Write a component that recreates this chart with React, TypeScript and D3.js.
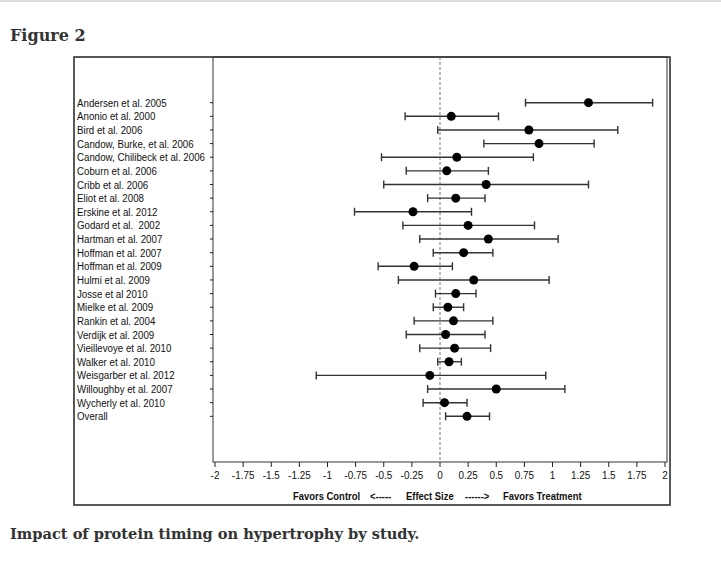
import { useEffect, useRef } from "react";
import * as d3 from "d3";

const studies = [
  "Andersen et al. 2005",
  "Anonio et al. 2000",
  "Bird et al. 2006",
  "Candow, Burke, et al. 2006",
  "Candow, Chilibeck et al. 2006",
  "Coburn et al. 2006",
  "Cribb et al. 2006",
  "Eliot et al. 2008",
  "Erskine et al. 2012",
  "Godard et al.  2002",
  "Hartman et al. 2007",
  "Hoffman et al. 2007",
  "Hoffman et al. 2009",
  "Hulmi et al. 2009",
  "Josse et al 2010",
  "Mielke et al. 2009",
  "Rankin et al. 2004",
  "Verdijk et al. 2009",
  "Vieillevoye et al. 2010",
  "Walker et al. 2010",
  "Weisgarber et al. 2012",
  "Willoughby et al. 2007",
  "Wycherly et al. 2010",
  "Overall",
];
const effect = [1.32, 0.1, 0.79, 0.88, 0.15, 0.06, 0.41, 0.14, -0.24, 0.25, 0.43, 0.21, -0.23, 0.3, 0.14, 0.07, 0.12, 0.05, 0.13, 0.08, -0.09, 0.5, 0.04, 0.24];
const lower = [0.76, -0.31, -0.02, 0.39, -0.52, -0.3, -0.5, -0.11, -0.76, -0.33, -0.18, -0.06, -0.55, -0.37, -0.04, -0.06, -0.23, -0.3, -0.18, -0.02, -1.1, -0.11, -0.15, 0.05];
const upper = [1.89, 0.52, 1.58, 1.37, 0.83, 0.43, 1.32, 0.4, 0.28, 0.84, 1.05, 0.47, 0.11, 0.97, 0.32, 0.21, 0.47, 0.4, 0.45, 0.19, 0.94, 1.11, 0.24, 0.44];
const xTicks = [-2, -1.75, -1.5, -1.25, -1, -0.75, -0.5, -0.25, 0, 0.25, 0.5, 0.75, 1, 1.25, 1.5, 1.75, 2];
const axisTitleParts = ["Favors Control", "<-----", "Effect Size", "------>", "Favors Treatment"];

const W = 721;
const H = 561;

export default function App() {
  const svgRef = useRef<SVGSVGElement | null>(null);

  useEffect(() => {
    if (!svgRef.current) return;
    const svg = d3.select(svgRef.current);
    svg.selectAll("*").remove();

    const outer = { left: 74, top: 57, right: 670, bottom: 505 };
    const plot = { left: 213, top: 57, right: 667, bottom: 462 };
    const narrow = 0.9; // the original sans is a bit condensed

    // thin grey rule at the very top of the page
    svg.append("rect").attr("x", 0).attr("y", 0).attr("width", W).attr("height", 2).attr("fill", "#dcdcdc");

    svg.append("text")
      .attr("x", 10).attr("y", 41)
      .style("font-family", "'DejaVu Serif', serif")
      .style("font-weight", "bold")
      .style("font-size", "16px")
      .style("fill", "#333")
      .text("Figure 2");

    svg.append("text")
      .attr("x", 10).attr("y", 539)
      .style("font-family", "'DejaVu Serif', serif")
      .style("font-weight", "bold")
      .style("font-size", "14.6px")
      .style("fill", "#333")
      .text("Impact of protein timing on hypertrophy by study.");

    svg.append("rect")
      .attr("x", outer.left).attr("y", outer.top)
      .attr("width", outer.right - outer.left)
      .attr("height", outer.bottom - outer.top)
      .attr("fill", "#fff")
      .attr("stroke", "#222")
      .attr("stroke-width", 1.5);

    svg.append("rect")
      .attr("x", plot.left).attr("y", plot.top)
      .attr("width", plot.right - plot.left)
      .attr("height", plot.bottom - plot.top)
      .attr("fill", "none")
      .attr("stroke", "#333")
      .attr("stroke-width", 1);

    const x = d3.scaleLinear().domain([-2, 2]).range([215, 665]);
    const y = d3.scalePoint<string>().domain(studies).range([plot.top, plot.bottom]).padding(3.35);

    const font = "'Liberation Sans', Arial, sans-serif";

    // zero reference line
    svg.append("line")
      .attr("x1", x(0)).attr("x2", x(0))
      .attr("y1", plot.top).attr("y2", plot.bottom)
      .attr("stroke", "#777")
      .attr("stroke-dasharray", "3,2");

    // x axis
    const xAxis = svg.append("g").attr("transform", `translate(0,${plot.bottom})`);
    xAxis.selectAll("line.tick")
      .data(xTicks)
      .join("line")
      .attr("class", "tick")
      .attr("x1", (d) => x(d)).attr("x2", (d) => x(d))
      .attr("y1", 0).attr("y2", 5)
      .attr("stroke", "#222");
    xAxis.selectAll("text")
      .data(xTicks)
      .join("text")
      .attr("transform", (d) => `translate(${x(d)},17) scale(${narrow},1)`)
      .attr("text-anchor", "middle")
      .style("font-family", font)
      .style("font-size", "11px")
      .style("fill", "#111")
      .text((d) => String(d));

    const titleX = [293, 370, 406, 465, 503];
    svg.append("g")
      .selectAll("text")
      .data(axisTitleParts)
      .join("text")
      .attr("transform", (_, i) => `translate(${titleX[i]},500) scale(${narrow},1)`)
      .style("font-family", font)
      .style("font-weight", "bold")
      .style("font-size", "10.5px")
      .style("fill", "#111")
      .text((d) => d);

    // y ticks and labels
    const rows = svg.append("g");
    rows.selectAll("line")
      .data(studies)
      .join("line")
      .attr("x1", plot.left - 3).attr("x2", plot.left)
      .attr("y1", (d) => y(d)!).attr("y2", (d) => y(d)!)
      .attr("stroke", "#222");
    rows.selectAll("text")
      .data(studies)
      .join("text")
      .attr("transform", (d) => `translate(77,${y(d)! + 4}) scale(${narrow},1)`)
      .attr("xml:space", "preserve")
      .style("white-space", "pre")
      .style("font-family", font)
      .style("font-size", "10.8px")
      .style("fill", "#111")
      .text((d) => d);

    // error bars
    const bars = svg.append("g").attr("stroke", "#333").attr("stroke-width", 1.4);
    studies.forEach((s, i) => {
      const cy = y(s)!;
      bars.append("line").attr("x1", x(lower[i])).attr("x2", x(upper[i])).attr("y1", cy).attr("y2", cy);
      bars.append("line").attr("x1", x(lower[i])).attr("x2", x(lower[i])).attr("y1", cy - 4).attr("y2", cy + 4);
      bars.append("line").attr("x1", x(upper[i])).attr("x2", x(upper[i])).attr("y1", cy - 4).attr("y2", cy + 4);
    });

    svg.append("g")
      .selectAll("circle")
      .data(studies)
      .join("circle")
      .attr("cx", (_, i) => x(effect[i]))
      .attr("cy", (d) => y(d)!)
      .attr("r", 4.5)
      .attr("fill", "#000");
  }, []);

  return (
    <div style={{ position: "absolute", left: 0, top: 0 }}>
      <svg ref={svgRef} width={W} height={H} style={{ display: "block", background: "#fff" }} />
    </div>
  );
}
